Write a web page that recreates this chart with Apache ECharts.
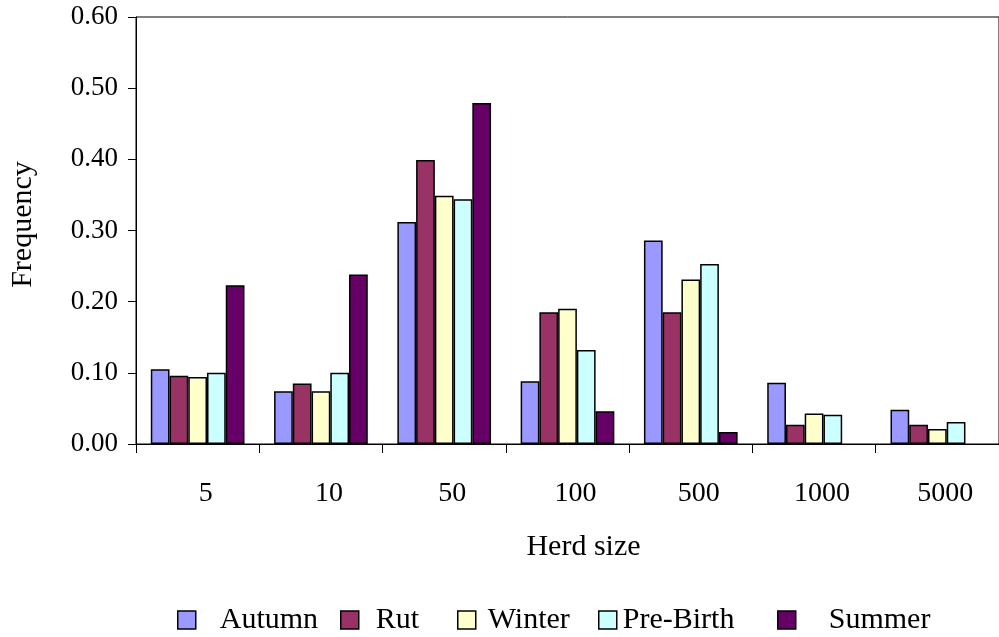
<!DOCTYPE html>
<html>
<head>
<meta charset="utf-8">
<script src="https://cdn.jsdelivr.net/npm/echarts@6/dist/echarts.min.js"></script>
<style>
html,body{margin:0;padding:0;background:#fff;}
#chart{width:999px;height:637px;}
</style>
</head>
<body>
<div id="chart"></div>
<script>
const categories = ['5', '10', '50', '100', '500', '1000', '5000'];
const autumn   = [0.105, 0.074, 0.312, 0.088, 0.286, 0.086, 0.048];
const rut      = [0.096, 0.085, 0.399, 0.185, 0.185, 0.027, 0.027];
const winter   = [0.094, 0.074, 0.349, 0.190, 0.231, 0.043, 0.021];
const preBirth = [0.100, 0.100, 0.344, 0.132, 0.253, 0.041, 0.031];
const summer   = [0.223, 0.238, 0.479, 0.046, 0.017, null, null];
const seriesNames = ['Autumn', 'Rut', 'Winter', 'Pre-Birth', 'Summer'];
const seriesData = [autumn, rut, winter, preBirth, summer];
const colors = ['#9999FF', '#993366', '#FFFFCC', '#CCFFFF', '#660066'];

const FONT = '"Liberation Serif", "Times New Roman", serif';
const chart = echarts.init(document.getElementById('chart'), null, {renderer: 'canvas'});

const legendLeft = [172, 335, 452, 593, 772];
const legendTextPad = [19, 12, 7, 1, 28];

const option = {
  animation: false,
  backgroundColor: '#fff',
  color: colors,
  grid: {
    left: 136, top: 17, width: 872, height: 427,
    show: true, borderColor: '#000', borderWidth: 1, backgroundColor: 'transparent'
  },
  legend: seriesNames.map((n, i) => ({
    data: [n],
    left: legendLeft[i],
    top: 600,
    itemWidth: 18, itemHeight: 18,
    icon: 'rect',
    itemStyle: {borderColor: '#000', borderWidth: 1.5},
    textStyle: {fontFamily: FONT, fontSize: 30, color: '#000', padding: [0, 0, 0, legendTextPad[i]]},
    selectedMode: false
  })),
  xAxis: {
    type: 'category',
    data: categories,
    name: 'Herd size',
    nameLocation: 'middle',
    nameGap: 88,
    nameTextStyle: {fontFamily: FONT, fontSize: 30, color: '#000', padding: [0, 0, 0, 32]},
    axisLine: {lineStyle: {color: '#000', width: 1}},
    axisTick: {show: true, length: 9, alignWithLabel: false, lineStyle: {color: '#000'}},
    axisLabel: {fontFamily: FONT, fontSize: 28, color: '#000', margin: 36, padding: [0, 0, 0, 16]},
    splitLine: {show: false}
  },
  yAxis: {
    type: 'value',
    min: 0, max: 0.6, interval: 0.1,
    name: 'Frequency',
    nameLocation: 'middle',
    nameGap: 98,
    nameTextStyle: {fontFamily: FONT, fontSize: 30, color: '#000', padding: [0, 0, 0, 12]},
    axisLine: {show: true, lineStyle: {color: '#000', width: 1}},
    axisTick: {show: true, inside: false, length: 8, lineStyle: {color: '#000'}},
    axisLabel: {fontFamily: FONT, fontSize: 27, color: '#000', margin: 18,
      formatter: v => v.toFixed(2)},
    splitLine: {show: false}
  },
  series: seriesNames.map((n, i) => ({
    name: n,
    type: 'bar',
    data: seriesData[i],
    barGap: '0%',
    barCategoryGap: '24%',
    itemStyle: {color: colors[i], borderColor: '#000', borderWidth: 1.5}
  }))
};
chart.setOption(option);
</script>
</body>
</html>
